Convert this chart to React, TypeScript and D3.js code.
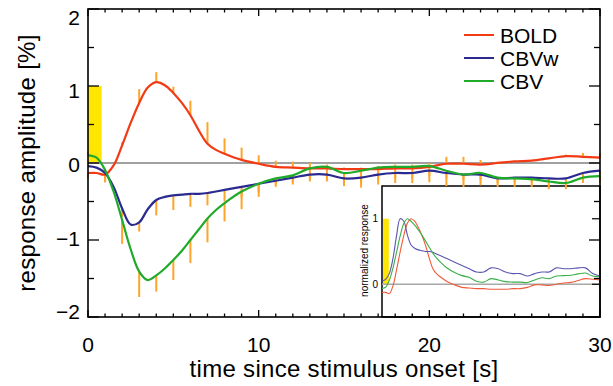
import React from "react";
import * as d3 from "d3";

// time since stimulus onset [s]
const time = [0, 0.5, 1, 1.5, 2, 2.5, 3, 3.5, 4, 4.5, 5, 5.5, 6, 6.5, 7, 7.5, 8,
  9, 10, 11, 12, 13, 14, 15, 16, 17, 18, 19, 20, 21, 22, 23, 24, 25, 26, 27, 28, 29, 30];

// response amplitude [%]
const bold = [-0.13, -0.13, -0.15, -0.03, 0.23, 0.52, 0.78, 0.98, 1.05, 1.01, 0.91, 0.78, 0.62, 0.42, 0.25, 0.17, 0.12,
  0.04, -0.01, -0.05, -0.06, -0.07, -0.07, -0.08, -0.08, -0.08, -0.07, -0.07, -0.05, -0.01, -0.01, -0.02, 0.0, 0.02, 0.03, 0.06, 0.09, 0.08, 0.07];
const cbvw = [-0.04, -0.06, -0.13, -0.31, -0.59, -0.8, -0.77, -0.6, -0.48, -0.44, -0.42, -0.41, -0.4, -0.4, -0.39, -0.37, -0.35,
  -0.31, -0.27, -0.23, -0.19, -0.15, -0.15, -0.2, -0.19, -0.15, -0.13, -0.13, -0.1, -0.13, -0.15, -0.15, -0.2, -0.19, -0.19, -0.2, -0.2, -0.13, -0.1];
const cbv = [0.1, 0.07, -0.09, -0.37, -0.74, -1.12, -1.41, -1.52, -1.46, -1.37, -1.26, -1.14, -1.0, -0.86, -0.72, -0.61, -0.52,
  -0.37, -0.27, -0.2, -0.16, -0.07, -0.05, -0.13, -0.1, -0.06, -0.05, -0.05, -0.04, -0.1, -0.15, -0.13, -0.19, -0.2, -0.21, -0.24, -0.26, -0.19, -0.17];

// error bars: far end of each one-sided bar, at whole seconds
const errTime = [0, 1, 2, 3, 4, 5, 6, 7, 8, 9, 10, 11, 12, 13, 14, 15, 16, 17, 18, 19, 20, 21, 22, 23, 24, 25, 26, 27, 28, 29, 30];
const boldErr = [-0.2, -0.25, 0.27, 0.96, 1.18, 0.99, 0.81, 0.53, 0.32, 0.2, 0.1,
  0.03, 0.02, 0.0, -0.02, -0.06, -0.06, -0.04, -0.02, -0.02, 0.0,
  0.08, 0.08, 0.04, 0.02, 0.02, 0.03, 0.06, 0.11, 0.13, 0.13];
const cbvwErr = [-0.04, -0.2, -0.7, -0.89, -0.68, -0.61, -0.57, -0.55, -0.5, -0.45, -0.38,
  -0.28, -0.25, -0.21, -0.21, -0.26, -0.26, -0.22, -0.2, -0.2, -0.17,
  -0.2, -0.22, -0.22, -0.26, -0.25, -0.25, -0.26, -0.26, -0.19, -0.16];
const cbvErr = [0.15, -0.25, -1.05, -1.74, -1.67, -1.52, -1.3, -1.03, -0.76, -0.6, -0.44,
  -0.31, -0.28, -0.24, -0.24, -0.3, -0.32, -0.28, -0.26, -0.26, -0.25,
  -0.3, -0.31, -0.29, -0.31, -0.31, -0.31, -0.34, -0.34, -0.26, -0.26];

const stimulus = [0, 0.8];
const xTicks = [0, 10, 20, 30];
const yTicks = [2, 1, 0, -1, -2];
const insetTicks = [1, 0];

const series = [
  { name: "BOLD", values: bold, err: boldErr, color: "#f23a14", inset: "#f05a3a" },
  { name: "CBVw", values: cbvw, err: cbvwErr, color: "#2a2a90", inset: "#5a55b0" },
  { name: "CBV", values: cbv, err: cbvErr, color: "#1faa2a", inset: "#3aae48" },
];

const W = 613;
const H = 386;
const FONT = "'Liberation Sans', Arial, sans-serif";

export default function App() {
  const x = d3.scaleLinear().domain([0, 30]).range([88, 600]);
  const y = d3.scaleLinear().domain([-2, 2]).range([317, 9]);
  const xi = d3.scaleLinear().domain([0, 30]).range([382, 600]);
  const yi = d3.scaleLinear().domain([-0.5, 1.5]).range([317, 186]);

  const line = d3
    .line<number>()
    .x((_, i) => x(time[i]))
    .y((d) => y(d))
    .curve(d3.curveCatmullRom.alpha(0.5));

  const insetLine = d3
    .line<number>()
    .x((_, i) => xi(time[i]))
    .y((d) => yi(d))
    .curve(d3.curveCatmullRom.alpha(0.5));

  const minorX = d3.range(0, 31, 1);
  const minorY = d3.range(-2, 2.01, 0.5);

  return (
    <svg width={W} height={H} style={{ position: "absolute", left: 0, top: 0 }} fontFamily={FONT}>
      <rect width={W} height={H} fill="#fff" />

      {/* stimulus */}
      <rect x={x(stimulus[0])} y={y(1)} width={x(stimulus[1]) - x(stimulus[0])} height={y(0) - y(1)} fill="#ffe600" />
      <line x1={x(0)} x2={x(30)} y1={y(0)} y2={y(0)} stroke="#a0a0a0" strokeWidth={2} />

      {/* inset */}
      <g>
        <rect x={xi(0)} y={yi(1.5)} width={xi(30) - xi(0)} height={yi(-0.5) - yi(1.5)} fill="#fff" stroke="#000" strokeWidth={1.5} />
        <rect x={xi(stimulus[0]) + 1} y={yi(1)} width={xi(stimulus[1]) - xi(stimulus[0])} height={yi(0) - yi(1)} fill="#ffe600" />
        <line x1={xi(0)} x2={xi(30)} y1={yi(0)} y2={yi(0)} stroke="#a8a8a8" strokeWidth={1.5} />
        {series.map((s) => {
          const peak = s.values.reduce((a, b) => (Math.abs(b) > Math.abs(a) ? b : a), 0);
          return (
            <path key={s.name} d={insetLine(s.values.map((v) => v / peak)) || ""} fill="none" stroke={s.inset} strokeWidth={1.1} />
          );
        })}
        {insetTicks.map((t) => (
          <g key={t}>
            <line x1={xi(30)} x2={xi(30) - 8} y1={yi(t)} y2={yi(t)} stroke="#000" strokeWidth={1.2} />
            <text x={xi(0) - 4} y={yi(t) + 3.5} fontSize={10} textAnchor="end">{t}</text>
          </g>
        ))}
        <text transform={`translate(${xi(0) - 14},${yi(0.5) - 1}) rotate(-90)`} fontSize={10} textAnchor="middle">
          normalized response
        </text>
      </g>

      {/* error bars */}
      {series.map((s) =>
        errTime.map((t, i) => {
          const v = s.values[time.indexOf(t)];
          return (
            <line key={s.name + t} x1={x(t)} x2={x(t)} y1={y(v)} y2={y(s.err[i])} stroke="#ffa42a" strokeWidth={2} />
          );
        })
      )}

      {/* curves */}
      {series.map((s) => (
        <path key={s.name} d={line(s.values) || ""} fill="none" stroke={s.color} strokeWidth={2.2} />
      ))}

      {/* axes box and ticks */}
      <rect x={x(0)} y={y(2)} width={x(30) - x(0)} height={y(-2) - y(2)} fill="none" stroke="#000" strokeWidth={1.6} />
      {minorX.map((t) => {
        const len = t % 10 === 0 ? 7 : 3.5;
        return (
          <g key={"xt" + t}>
            <line x1={x(t)} x2={x(t)} y1={y(-2)} y2={y(-2) - len} stroke="#000" strokeWidth={1.3} />
            <line x1={x(t)} x2={x(t)} y1={y(2)} y2={y(2) + len} stroke="#000" strokeWidth={1.3} />
          </g>
        );
      })}
      {minorY.map((v) => {
        const len = Math.abs(v % 1) < 1e-6 ? 11 : 6;
        return (
          <g key={"yt" + v}>
            <line x1={x(0)} x2={x(0) + len} y1={y(v)} y2={y(v)} stroke="#000" strokeWidth={1.3} />
            <line x1={x(30)} x2={x(30) - len} y1={y(v)} y2={y(v)} stroke="#000" strokeWidth={1.3} />
          </g>
        );
      })}

      {xTicks.map((t) => (
        <text key={"xl" + t} x={x(t)} y={352} fontSize={21} textAnchor="middle">{t}</text>
      ))}
      {yTicks.map((v) => (
        <text key={"yl" + v} x={80} y={y(v * 0.955) + 9} fontSize={21} textAnchor="end">
          {v < 0 ? "\u2212" + Math.abs(v) : v}
        </text>
      ))}

      <text x={(x(0) + x(30)) / 2} y={377} fontSize={24} letterSpacing={0.3} textAnchor="middle">time since stimulus onset [s]</text>
      <text transform={`translate(35,${y(0)}) rotate(-90)`} fontSize={24} letterSpacing={0.3} textAnchor="middle">response amplitude [%]</text>

      {/* legend */}
      {series.map((s, i) => (
        <g key={"lg" + s.name} transform={`translate(464,${35 + i * 23})`}>
          <line x1={0} x2={30} y1={0} y2={0} stroke={s.color} strokeWidth={2} />
          <text x={36} y={7.5} fontSize={21}>{s.name}</text>
        </g>
      ))}
    </svg>
  );
}
